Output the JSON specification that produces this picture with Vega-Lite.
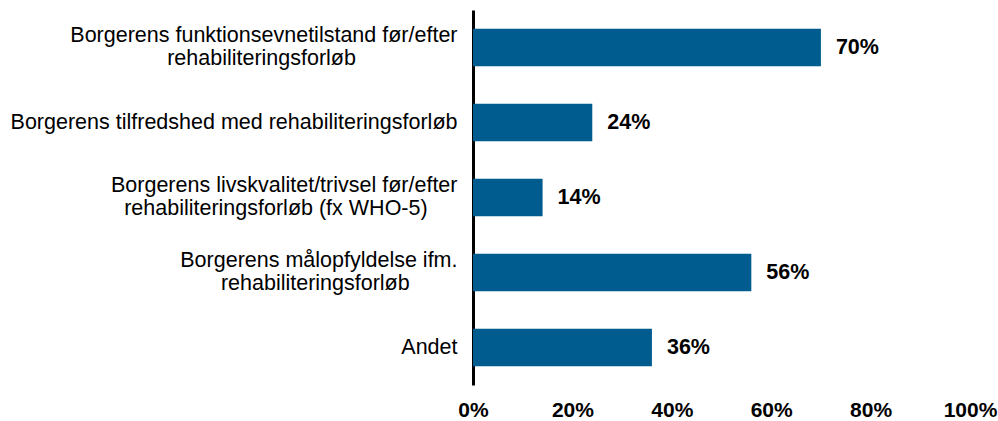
{
  "$schema": "https://vega.github.io/schema/vega-lite/v6.json",
  "width": 497,
  "height": 375,
  "autosize": {"type": "none"},
  "padding": {"left": 473, "top": 10, "right": 28, "bottom": 36},
  "background": "white",
  "config": {"view": {"stroke": null}, "font": "Liberation Sans"},
  "data": {"values": [
    {"kategori": "Borgerens funktionsevnetilstand før/efter|rehabiliteringsforløb", "andel": 0.70},
    {"kategori": "Borgerens tilfredshed med rehabiliteringsforløb", "andel": 0.24},
    {"kategori": "Borgerens livskvalitet/trivsel før/efter|rehabiliteringsforløb (fx WHO-5)", "andel": 0.14},
    {"kategori": "Borgerens målopfyldelse ifm.|rehabiliteringsforløb", "andel": 0.56},
    {"kategori": "Andet", "andel": 0.36}
  ]},
  "encoding": {
    "y": {
      "field": "kategori", "type": "nominal", "sort": null,
      "scale": {"paddingInner": 0.5, "paddingOuter": 0.25},
      "axis": {
        "title": null, "ticks": false, "domain": true, "domainColor": "black", "domainWidth": 3,
        "labelAlign": "right", "labelBaseline": "middle", "labelPadding": 16, "labelFontSize": 21.5, "labelColor": "black",
        "labelLineHeight": 23, "labelLimit": 0,
        "labelOffset": {"condition": {"test": "indexof(datum.value, '|') >= 0", "value": -11.5}, "value": 0},
        "labelExpr": "indexof(datum.value, '|') < 0 ? datum.value : [split(datum.value, '|')[0], pad(split(datum.value, '|')[1], length(split(datum.value, '|')[1]) + (indexof(datum.value, 'funktion') >= 0 ? 17 : indexof(datum.value, 'livskval') >= 0 ? 5 : 8), '\u00a0') + '\u200b']"
      }
    },
    "x": {
      "field": "andel", "type": "quantitative",
      "scale": {"domain": [0, 1]},
      "axis": {
        "title": null, "grid": false, "domain": false, "ticks": false,
        "values": [0, 0.2, 0.4, 0.6, 0.8, 1], "format": ".0%",
        "labelFontSize": 21, "labelFontWeight": "bold", "labelColor": "black",
        "labelPadding": 14, "labelFlush": false
      }
    }
  },
  "layer": [
    {"mark": {"type": "bar", "color": "#005b8f"}},
    {"mark": {"type": "text", "align": "left", "dx": 15, "fontSize": 21.5, "fontWeight": "bold", "color": "black"},
     "encoding": {"text": {"field": "andel", "format": ".0%"}}}
  ]
}
